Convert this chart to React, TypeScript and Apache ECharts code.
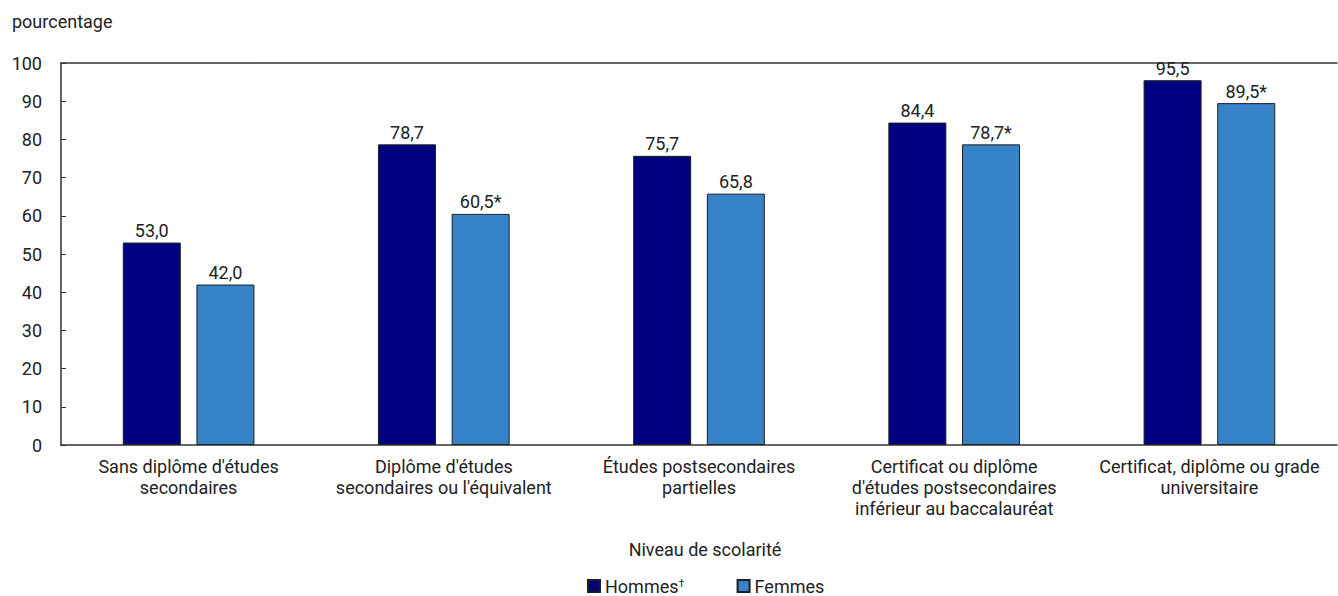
import React, { useEffect, useRef } from "react";
import * as echarts from "echarts";

// Niveau de scolarité (catégories de l'axe horizontal)
const categories = [
  "Sans diplôme d'études\nsecondaires",
  "Diplôme d'études\nsecondaires ou l'équivalent",
  "Études postsecondaires\npartielles",
  "Certificat ou diplôme\nd'études postsecondaires\ninférieur au baccalauréat",
  "Certificat, diplôme ou grade\nuniversitaire",
];

// Pourcentages par sexe
const hommes = [53.0, 78.7, 75.7, 84.4, 95.5];
const femmes = [42.0, 60.5, 65.8, 78.7, 89.5];
// Différence significative par rapport à la catégorie de référence (Hommes†)
const femmesSignificatif = [false, true, false, true, true];

const yTicks = { min: 0, max: 100, interval: 10 };

const FONT = "Roboto, 'Liberation Sans', sans-serif";
const FS = 18;
const TEXT = "#222222";
const AXIS = "#333333";
const DARK = "#000080";
const LIGHT = "#3684C7";
const BORDER = "#1f1f1f";

const fmt = (v: number) => v.toFixed(1).replace(".", ",");

export default function App() {
  const ref = useRef<HTMLDivElement>(null);

  useEffect(() => {
    if (!ref.current) return;
    const chart = echarts.init(ref.current, undefined, { renderer: "svg" });

    chart.setOption({
      animation: false,
      textStyle: { fontFamily: FONT, color: TEXT },
      grid: { left: 61, right: 1, top: 63, bottom: 151, containLabel: false },
      title: {
        text: "pourcentage",
        left: 7,
        top: 7,
        textStyle: { fontFamily: FONT, fontSize: FS, fontWeight: "normal", color: TEXT },
      },
      legend: {
        left: 587,
        top: 577,
        padding: 0,
        itemWidth: 12,
        itemHeight: 12,
        itemGap: 52,
        icon: "rect",
        textStyle: {
          fontFamily: FONT,
          fontSize: FS,
          lineHeight: 16,
          color: TEXT,
          rich: {
            sup: { fontFamily: FONT, fontSize: 11, lineHeight: 10, color: TEXT, verticalAlign: "top" },
          },
        },
        formatter: (name: string) => (name === "Hommes" ? "Hommes{sup|†}" : name),
        data: ["Hommes", "Femmes"],
      },
      xAxis: [
        {
          type: "category",
          data: categories,
          position: "bottom",
          axisLine: { show: true, lineStyle: { color: AXIS, width: 1.5 } },
          axisTick: { show: false },
          axisLabel: {
            interval: 0,
            margin: 11,
            fontFamily: FONT,
            fontSize: FS,
            lineHeight: 21,
            color: TEXT,
            align: "center",
          },
        },
        {
          type: "category",
          data: categories,
          position: "top",
          axisLine: { show: true, lineStyle: { color: AXIS, width: 1.5 } },
          axisTick: { show: false },
          axisLabel: { show: false },
        },
      ],
      yAxis: {
        type: "value",
        min: yTicks.min,
        max: yTicks.max,
        interval: yTicks.interval,
        axisLine: { show: true, lineStyle: { color: AXIS, width: 1.5 } },
        axisTick: { show: true, inside: true, length: 5, lineStyle: { color: AXIS } },
        splitLine: { show: false },
        axisLabel: { margin: 19, fontFamily: FONT, fontSize: FS, color: TEXT },
      },
      graphic: [
        {
          type: "text",
          x: 705,
          y: 549,
          style: {
            text: "Niveau de scolarité",
            fontFamily: FONT,
            fontSize: FS,
            fill: TEXT,
            textAlign: "center",
            textVerticalAlign: "middle",
          },
        },
      ],
      series: [
        {
          name: "Hommes",
          type: "bar",
          xAxisIndex: 0,
          data: hommes,
          barWidth: 58,
          barGap: "27%",
          itemStyle: { color: DARK, borderColor: BORDER, borderWidth: 1 },
          label: {
            show: true,
            position: "top",
            distance: 3,
            fontFamily: FONT,
            fontSize: FS,
            color: TEXT,
            formatter: (p: any) => fmt(p.value),
          },
        },
        {
          name: "Femmes",
          type: "bar",
          xAxisIndex: 0,
          data: femmes,
          barWidth: 58,
          barGap: "27%",
          itemStyle: { color: LIGHT, borderColor: BORDER, borderWidth: 1 },
          label: {
            show: true,
            position: "top",
            distance: 3,
            fontFamily: FONT,
            fontSize: FS,
            color: TEXT,
            formatter: (p: any) => fmt(p.value) + (femmesSignificatif[p.dataIndex] ? "*" : ""),
          },
        },
      ],
    });

    return () => chart.dispose();
  }, []);

  return (
    <div
      ref={ref}
      style={{ position: "fixed", left: 0, top: 0, width: 1338, height: 596, background: "#ffffff" }}
    />
  );
}
